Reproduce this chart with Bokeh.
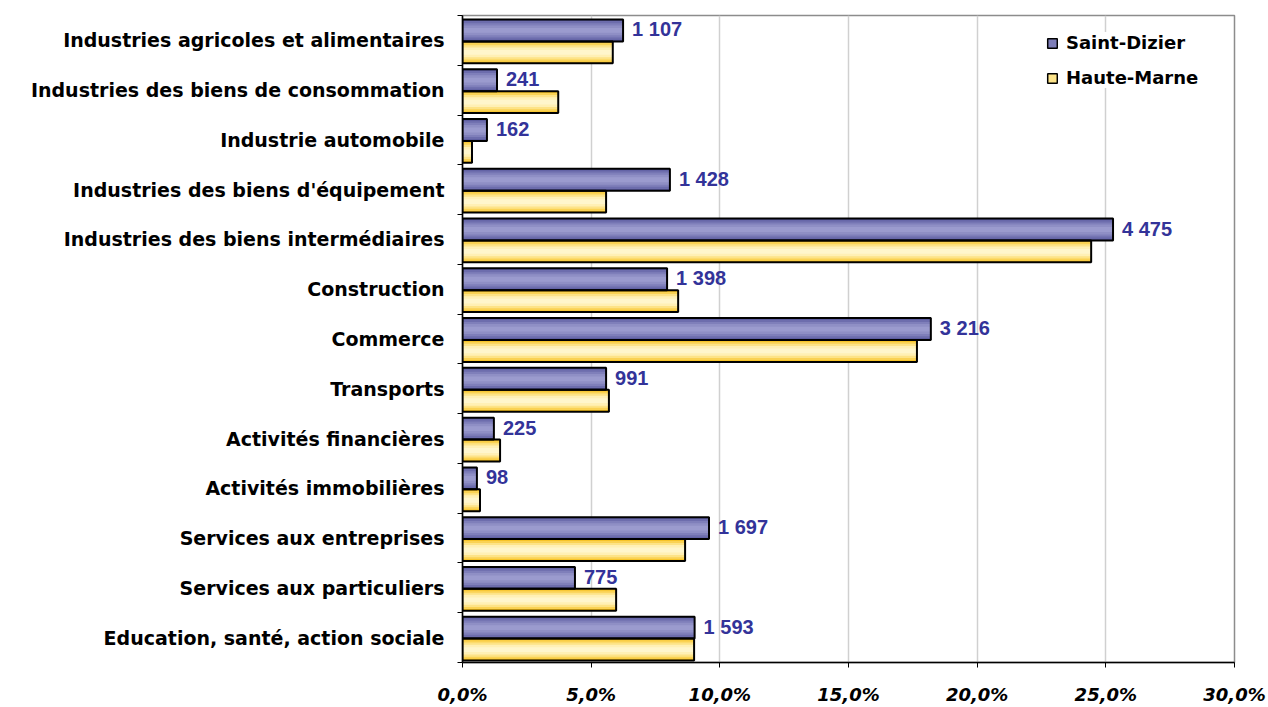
from bokeh.plotting import figure
from bokeh.models import ColumnDataSource, FixedTicker, Legend, LegendItem, Range1d
from bokeh.transform import dodge
from bokeh.core.properties import value
from bokeh.embed import file_html
from bokeh.resources import INLINE

categories = [
    "Industries agricoles et alimentaires",
    "Industries des biens de consommation",
    "Industrie automobile",
    "Industries des biens d'équipement",
    "Industries des biens intermédiaires",
    "Construction",
    "Commerce",
    "Transports",
    "Activités financières",
    "Activités immobilières",
    "Services aux entreprises",
    "Services aux particuliers",
    "Education, santé, action sociale",
]
saint_dizier_pct = [6.24, 1.34, 0.95, 8.06, 25.28, 7.95, 18.2, 5.58, 1.22, 0.56, 9.58, 4.37, 9.02]
haute_marne_pct = [5.84, 3.72, 0.37, 5.58, 24.43, 8.38, 17.66, 5.69, 1.46, 0.68, 8.65, 5.97, 9.0]
saint_dizier_count = ["1 107", "241", "162", "1 428", "4 475", "1 398", "3 216", "991", "225", "98", "1 697", "775", "1 593"]
x_ticks = [0, 5, 10, 15, 20, 25, 30]
x_tick_labels = ["0,0%", "5,0%", "10,0%", "15,0%", "20,0%", "25,0%", "30,0%"]

n = len(categories)
ypos = [n - i - 0.5 for i in range(n)]
boundaries = [float(i) for i in range(n + 1)]

src = ColumnDataSource(dict(y=ypos, sd=saint_dizier_pct, hm=haute_marne_pct, lab=saint_dizier_count))

FONT = "DejaVu Sans"
NUMFONT = "Liberation Sans"
W, HGT = 1268, 707
p = figure(width=W, height=HGT, output_backend="svg", toolbar_location=None,
           x_range=Range1d(0, 30), y_range=Range1d(0, n),
           min_border_left=462, min_border_right=W - 1234, min_border_top=15, min_border_bottom=HGT - 666)
p.background_fill_color = "white"
p.border_fill_color = "white"
p.outline_line_color = "#8c8c8c"
p.outline_line_width = 1.5

p.ygrid.visible = False
p.xgrid.ticker = FixedTicker(ticks=x_ticks)
p.xgrid.grid_line_color = "#d0d0d0"
p.xgrid.grid_line_width = 1.5

H = 0.44
ysd = dodge("y", 0.2, range=p.y_range)
yhm = dodge("y", -0.24, range=p.y_range)

sd_shades = ["#5a5a9e", "#6d6dad", "#7f7fba", "#8f8fc5", "#9b9bce"]
hm_shades = ["#f6bf1a", "#fad253", "#fde387", "#fff0b5", "#fff6cc"]
fr = [1.0, 0.85, 0.65, 0.45, 0.22]

for cs, ch, f in zip(sd_shades, hm_shades, fr):
    p.hbar(y=ysd, left=0, right="sd", height=H * f, source=src, fill_color=cs, line_color=None)
    p.hbar(y=yhm, left=0, right="hm", height=H * f, source=src, fill_color=ch, line_color=None)
p.hbar(y=ysd, left=0, right="sd", height=H, source=src, fill_color=None, line_color="black", line_width=2)
p.hbar(y=yhm, left=0, right="hm", height=H, source=src, fill_color=None, line_color="black", line_width=2)

# legend proxies
l_sd = p.hbar(y=ysd, left=0, right="sd", height=H, source=src, fill_color="#7e7eb9", line_color="black", line_width=1.5, visible=False)
l_hm = p.hbar(y=yhm, left=0, right="hm", height=H, source=src, fill_color="#fde48a", line_color="black", line_width=1.5, visible=False)

p.text(x="sd", y=ysd, text="lab", source=src, x_offset=9, y_offset=-1,
       text_font=value(NUMFONT), text_font_style="bold", text_font_size="20px",
       text_color="#333399", text_baseline="middle", text_align="left")

# y axis
p.yaxis.ticker = FixedTicker(ticks=ypos, minor_ticks=boundaries)
p.yaxis.major_label_overrides = {y: c for y, c in zip(ypos, categories)}
p.yaxis.major_tick_out = 0
p.yaxis.major_tick_in = 0
p.yaxis.minor_tick_out = 5
p.yaxis.minor_tick_in = 0
p.yaxis.minor_tick_line_color = "black"
p.yaxis.axis_line_color = "black"
p.yaxis.axis_line_width = 1.5
p.yaxis.major_label_standoff = 13
p.yaxis.major_label_text_font = FONT
p.yaxis.major_label_text_font_style = "bold"
p.yaxis.major_label_text_font_size = "19px"
p.yaxis.major_label_text_color = "black"

# x axis
p.xaxis.ticker = FixedTicker(ticks=x_ticks, minor_ticks=[])
p.xaxis.major_label_overrides = {t: l for t, l in zip(x_ticks, x_tick_labels)}
p.xaxis.major_tick_out = 5
p.xaxis.major_tick_in = 0
p.xaxis.major_tick_line_color = "black"
p.xaxis.axis_line_color = "black"
p.xaxis.axis_line_width = 1.5
p.xaxis.major_label_standoff = 16
p.xaxis.major_label_text_font = FONT
p.xaxis.major_label_text_font_style = "bold italic"
p.xaxis.major_label_text_font_size = "18px"
p.xaxis.major_label_text_color = "black"

legend = Legend(items=[LegendItem(label="Saint-Dizier", renderers=[l_sd]),
                       LegendItem(label="Haute-Marne", renderers=[l_hm])],
                location=(584, 574))
legend.glyph_width = 12
legend.glyph_height = 12
legend.label_text_font = FONT
legend.label_text_font_style = "bold"
legend.label_text_font_size = "18px"
legend.label_text_color = "black"
legend.label_height = 20
legend.border_line_color = None
legend.background_fill_color = "white"
legend.background_fill_alpha = 1
legend.margin = 0
legend.padding = 10
legend.spacing = 14
legend.label_standoff = 8
p.add_layout(legend)

open("out.html", "w").write(file_html(p, INLINE))
